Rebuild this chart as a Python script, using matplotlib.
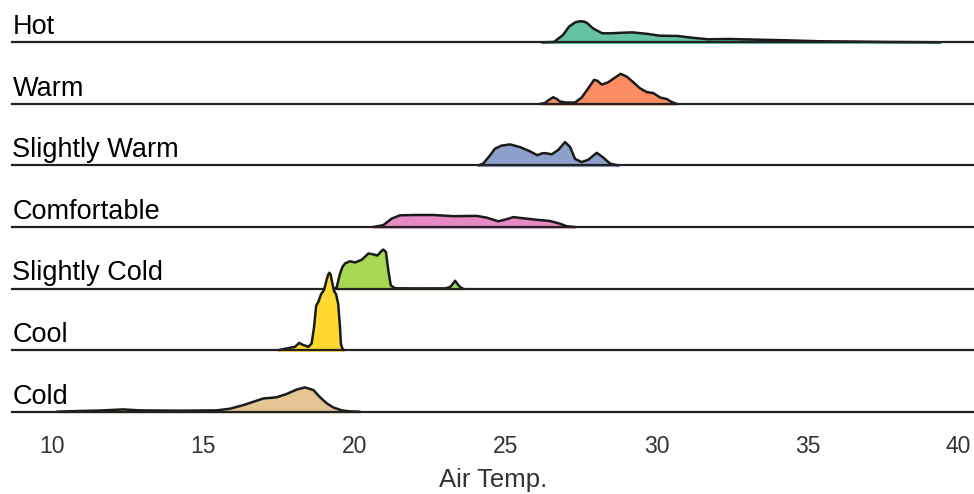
import matplotlib.pyplot as plt
import numpy as np

plt.rcParams['font.family'] = ['Liberation Sans', 'DejaVu Sans']

# ridgeline of air temperature by thermal sensation
categories = ["Hot", "Warm", "Slightly Warm", "Comfortable", "Slightly Cold", "Cool", "Cold"]
colors = ["#66c2a5", "#fc8d62", "#8da0cb", "#e78ac3", "#a6d854", "#ffd92f", "#e5c494"]
xticks = [10, 15, 20, 25, 30, 35, 40]

# density curves (temperature, density)
hot_temp = [26.2, 26.6, 26.9, 27.1, 27.3, 27.4, 27.5, 27.6, 27.7, 27.9, 28.2, 28.5, 28.9, 29.2,
            29.7, 30.1, 30.7, 31.1, 31.7, 32.4, 33.2, 34.3, 35.4, 36.5, 37.5, 38.5, 39.4]
hot_density = [0, 0.005, 0.12, 0.26, 0.33, 0.345, 0.35, 0.345, 0.32, 0.23, 0.15, 0.15, 0.16, 0.165,
               0.14, 0.11, 0.105, 0.08, 0.05, 0.055, 0.045, 0.033, 0.017, 0.012, 0.006, 0.003, 0]

warm_temp = [26.14, 26.3, 26.45, 26.58, 26.7, 26.8, 27.0, 27.3, 27.52, 27.74, 27.93, 28.04, 28.19,
             28.4, 28.63, 28.81, 29.01, 29.23, 29.45, 29.68, 29.89, 30.12, 30.34, 30.5, 30.67]
warm_density = [0, 0.012, 0.07, 0.11, 0.08, 0.04, 0.022, 0.022, 0.105, 0.26, 0.40, 0.385, 0.32,
                0.36, 0.44, 0.50, 0.455, 0.36, 0.26, 0.195, 0.18, 0.105, 0.08, 0.03, 0]

swarm_temp = [24.1, 24.26, 24.49, 24.65, 24.87, 25.15, 25.48, 25.81, 26.05, 26.2, 26.31, 26.53,
              26.75, 26.97, 27.14, 27.3, 27.52, 27.74, 28.02, 28.24, 28.46, 28.74]
swarm_density = [0, 0.03, 0.17, 0.28, 0.33, 0.35, 0.305, 0.235, 0.17, 0.2, 0.205, 0.185,
                 0.26, 0.39, 0.305, 0.11, 0.055, 0.095, 0.21, 0.13, 0.03, 0]

comf_temp = [20.62, 20.95, 21.23, 21.51, 22.06, 22.61, 23.27, 24.05, 24.38, 24.76, 25.04, 25.26,
             25.59, 26.03, 26.47, 26.8, 27.03, 27.3]
comf_density = [0, 0.03, 0.14, 0.195, 0.2, 0.2, 0.18, 0.185, 0.155, 0.095, 0.13, 0.165,
                0.145, 0.12, 0.1, 0.055, 0.012, 0]

scold_temp = [19.35, 19.41, 19.52, 19.6, 19.69, 19.85, 20.02, 20.24, 20.46, 20.62, 20.76, 20.88,
              20.95, 21.04, 21.12, 21.2, 21.34, 22.0, 23.0, 23.15, 23.22, 23.33, 23.44, 23.55, 23.6]
scold_density = [0, 0.02, 0.25, 0.36, 0.42, 0.455, 0.435, 0.48, 0.585, 0.57, 0.55, 0.62,
                 0.65, 0.61, 0.3, 0.055, 0.005, 0.002, 0.003, 0.02, 0.055, 0.13, 0.055, 0.003, 0]

cool_temp = [17.48, 17.59, 17.81, 18.03, 18.17, 18.28, 18.47, 18.58, 18.66, 18.73, 18.8, 18.89,
             18.99, 19.08, 19.13, 19.17, 19.21, 19.24, 19.32, 19.39, 19.46, 19.52, 19.55, 19.61, 19.65]
cool_density = [0, 0.012, 0.033, 0.055, 0.12, 0.09, 0.055, 0.11, 0.38, 0.74, 0.8, 0.93,
                1.0, 1.18, 1.26, 1.29, 1.26, 1.18, 0.99, 0.93, 0.77, 0.38, 0.1, 0.012, 0]

cold_temp = [10.14, 10.9, 11.6, 12.34, 12.9, 14.2, 15.44, 15.88, 16.32, 16.65, 16.98, 17.42,
             17.75, 18.09, 18.36, 18.64, 18.86, 19.08, 19.3, 19.58, 19.85, 20.18]
cold_density = [0, 0.012, 0.02, 0.038, 0.022, 0.017, 0.022, 0.05, 0.11, 0.165, 0.22, 0.24,
                0.295, 0.37, 0.405, 0.36, 0.24, 0.14, 0.07, 0.022, 0.005, 0]

curves = [(hot_temp, hot_density), (warm_temp, warm_density), (swarm_temp, swarm_density),
          (comf_temp, comf_density), (scold_temp, scold_density), (cool_temp, cool_density),
          (cold_temp, cold_density)]

fig = plt.figure(figsize=(9.74, 4.94), dpi=100)
ax = fig.add_axes([12 / 974, 82.3 / 494, 962 / 974, 411.7 / 494])
ax.set_xlim(8.66, 40.51)
ax.set_ylim(0, 411.7 / 60)

step = 61.57 / 60
n = len(categories)
for i, (name, col, (t, d)) in enumerate(zip(categories, colors, curves)):
    off = (n - 1 - i) * step
    t = np.array(t)
    d = np.array(d)
    z = 2 + i * 3
    ax.fill_between(t, off - 0.02, off + d, color=col, lw=0, zorder=z, clip_on=False)
    ax.plot(t, off + d, color="#1a1a1a", lw=1.8, zorder=z + 1, clip_on=False,
            solid_joinstyle="round", solid_capstyle="round")
    ax.axhline(off, color="#222222", lw=1.6, zorder=z + 2, clip_on=False)
    ax.text(0.0005, off + 0.135, name, transform=ax.get_yaxis_transform(),
            fontsize=19.5, color="black", va="baseline", ha="left")

ax.set_xticks(xticks)
ax.set_yticks([])
ax.tick_params(axis="x", length=0, pad=17, labelsize=16.5, labelcolor="#333333")
ax.set_xlabel("Air Temp.", fontsize=18.5, color="#333333", labelpad=7)
for s in ax.spines.values():
    s.set_visible(False)

fig.savefig("out.png", dpi=100)
